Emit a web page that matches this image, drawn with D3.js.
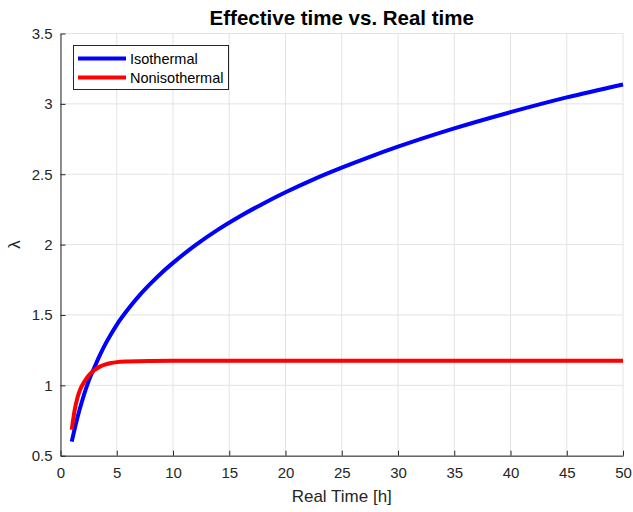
<!DOCTYPE html>
<html><head><meta charset="utf-8">
<script src="https://cdn.jsdelivr.net/npm/d3@7"></script>
<style>body{margin:0;background:#fff}svg{display:block}</style>
</head><body>
<svg id="c" width="633" height="512"></svg>
<script>
const isoT = [1,1.5,2,2.5,3,3.5,4,4.5,5,6,7,8,9,10,12,14,16,18,20,22.5,25,27.5,30,35,40,45,50];
const isoV = [0.60,0.77,0.91,1.03,1.125,1.215,1.295,1.365,1.43,1.54,1.637,1.722,1.80,1.87,1.996,2.106,2.203,2.291,2.372,2.464,2.547,2.624,2.696,2.826,2.941,3.046,3.138];
const nonT = [1,1.25,1.5,1.75,2,2.5,3,3.5,4,4.5,5,6,7,8,10,20,30,40,50];
const nonV = [0.685,0.82,0.91,0.97,1.01,1.07,1.108,1.133,1.149,1.159,1.165,1.17,1.172,1.173,1.174,1.174,1.174,1.174,1.174];
const xTicks = [0,5,10,15,20,25,30,35,40,45,50];
const yTicks = [0.5,1,1.5,2,2.5,3,3.5];
const seriesNames = ["Isothermal","Nonisothermal"];
const seriesColors = ["#0000ff","#ff0000"];

const svg = d3.select("#c");
const L=60.5, R=623, T=33.5, B=455.7;
const x = d3.scaleLinear().domain([0,50]).range([L,R]);
const y = d3.scaleLinear().domain([0.5,3.5]).range([B,T]);
const font = "Liberation Sans, Arial, Helvetica, sans-serif";
const axc = "#262626";

// grid
const g = svg.append("g");
g.selectAll(".vx").data(xTicks).join("line")
  .attr("x1",d=>x(d)).attr("x2",d=>x(d)).attr("y1",T).attr("y2",B)
  .attr("stroke","#e3e3e3").attr("stroke-width",1);
g.selectAll(".hy").data(yTicks).join("line")
  .attr("y1",d=>y(d)).attr("y2",d=>y(d)).attr("x1",L).attr("x2",R)
  .attr("stroke","#e3e3e3").attr("stroke-width",1);

// lines
const line = d3.line().x(d=>x(d[0])).y(d=>y(d[1])).curve(d3.curveMonotoneX);
const data = [d3.zip(isoT,isoV), d3.zip(nonT,nonV)];
data.forEach((d,i)=>{
  svg.append("path").datum(d).attr("d",line).attr("fill","none")
    .attr("stroke",seriesColors[i]).attr("stroke-width",4).attr("stroke-linejoin","round");
});

// axes
const xa = svg.append("g").attr("transform",`translate(0,${B})`)
  .call(d3.axisBottom(x).tickValues(xTicks).tickSizeInner(-5).tickSizeOuter(0).tickPadding(12).tickFormat(d3.format("")));
const ya = svg.append("g").attr("transform",`translate(${L},0)`)
  .call(d3.axisLeft(y).tickValues(yTicks).tickSizeInner(-5).tickSizeOuter(0).tickPadding(8).tickFormat(d3.format("")));
[xa,ya].forEach(a=>{
  a.select(".domain").attr("stroke",axc);
  a.selectAll(".tick line").attr("stroke",axc);
  a.selectAll("text").attr("fill",axc).style("font-family",font).style("font-size","15px");
});
xa.selectAll("text").attr("dy","0.71em");

// title & labels
svg.append("text").attr("x",(L+R)/2).attr("y",25).attr("text-anchor","middle")
  .style("font-family",font).style("font-size","20.5px").style("font-weight","bold").attr("fill","#000")
  .text("Effective time vs. Real time");
svg.append("text").attr("x",(L+R)/2).attr("y",502).attr("text-anchor","middle")
  .style("font-family",font).style("font-size","17px").attr("fill",axc).text("Real Time [h]");
svg.append("text").attr("transform",`translate(20,${(T+B)/2}) rotate(-90)`).attr("text-anchor","middle")
  .style("font-family",font).style("font-size","17px").attr("fill",axc).text("λ");

// legend
const lg = svg.append("g");
lg.append("rect").attr("x",73.5).attr("y",45.5).attr("width",155).attr("height",44)
  .attr("fill","#fff").attr("stroke",axc).attr("stroke-width",1);
seriesNames.forEach((n,i)=>{
  const yy = 58.5 + i*19;
  lg.append("line").attr("x1",78).attr("x2",126).attr("y1",yy).attr("y2",yy)
    .attr("stroke",seriesColors[i]).attr("stroke-width",4);
  lg.append("text").attr("x",130).attr("y",yy).attr("dy","0.35em")
    .style("font-family",font).style("font-size","14.5px").attr("fill","#000").text(n);
});
</script>
</body></html>
